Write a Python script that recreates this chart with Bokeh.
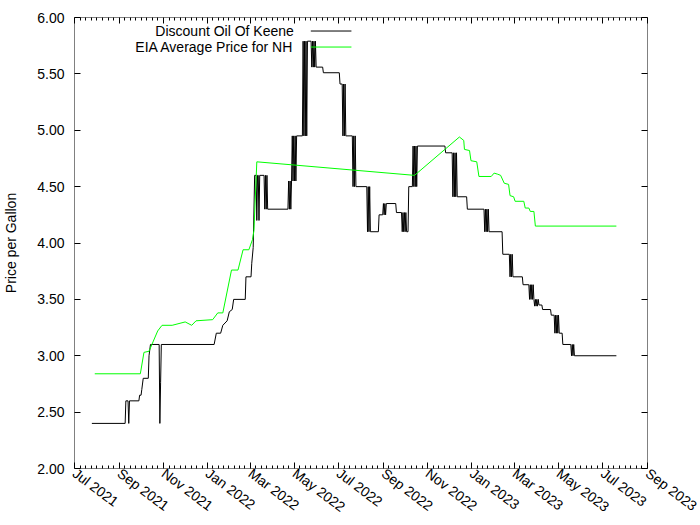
import math
import pandas as pd
from bokeh.plotting import figure
from bokeh.models import (FixedTicker, DatetimeAxis, LinearAxis, Range1d, DatetimeTickFormatter,
                          NumeralTickFormatter, CustomJSTickFormatter, Label, Arrow)
from bokeh.embed import file_html
from bokeh.resources import INLINE

# ---------------- data ----------------
keene_dates = [
    "2021-07-25", "2021-09-09", "2021-09-10", "2021-09-13", "2021-09-14", "2021-09-15",
    "2021-09-28", "2021-09-29", "2021-10-01", "2021-10-02", "2021-10-04", "2021-10-11",
    "2021-10-12", "2021-10-14", "2021-10-26", "2021-10-27", "2021-10-28", "2021-10-29",
    "2022-01-10", "2022-01-13", "2022-01-19", "2022-01-22", "2022-01-28", "2022-01-31",
    "2022-02-04", "2022-02-06", "2022-02-22", "2022-02-23", "2022-03-02", "2022-03-03",
    "2022-03-05", "2022-03-07", "2022-03-09", "2022-03-10", "2022-03-11", "2022-03-12",
    "2022-03-13", "2022-03-14", "2022-03-20", "2022-03-21", "2022-03-22", "2022-03-23",
    "2022-03-24", "2022-03-25", "2022-04-22", "2022-04-23", "2022-04-24", "2022-04-25",
    "2022-04-26", "2022-04-27", "2022-04-28", "2022-04-29", "2022-04-30", "2022-05-01",
    "2022-05-02", "2022-05-03", "2022-05-04", "2022-05-12", "2022-05-13", "2022-05-14",
    "2022-05-15", "2022-05-16", "2022-05-17", "2022-05-18", "2022-05-19", "2022-05-24",
    "2022-05-25", "2022-05-26", "2022-05-27", "2022-05-28", "2022-05-29", "2022-05-30",
    "2022-05-31", "2022-06-09", "2022-06-10", "2022-07-02", "2022-07-03", "2022-07-06",
    "2022-07-07", "2022-07-08", "2022-07-09", "2022-07-10", "2022-07-11", "2022-07-20",
    "2022-07-21", "2022-07-22", "2022-07-23", "2022-07-24", "2022-07-25", "2022-08-09",
    "2022-08-10", "2022-08-11", "2022-08-12", "2022-08-13", "2022-08-14", "2022-08-25",
    "2022-08-26", "2022-08-31", "2022-09-01", "2022-09-02", "2022-09-03", "2022-09-04",
    "2022-09-05", "2022-09-18", "2022-09-19", "2022-09-26", "2022-09-27", "2022-09-28",
    "2022-09-29", "2022-09-30", "2022-10-01", "2022-10-02", "2022-10-03", "2022-10-05",
    "2022-10-06", "2022-10-11", "2022-10-12", "2022-10-13", "2022-10-14", "2022-10-15",
    "2022-10-16", "2022-10-17", "2022-10-18", "2022-11-25", "2022-11-26", "2022-12-05",
    "2022-12-06", "2022-12-07", "2022-12-08", "2022-12-09", "2022-12-10", "2022-12-11",
    "2022-12-12", "2022-12-25", "2022-12-26", "2023-01-18", "2023-01-19", "2023-01-20",
    "2023-01-21", "2023-01-22", "2023-01-23", "2023-01-24", "2023-01-25", "2023-02-12",
    "2023-02-13", "2023-02-22", "2023-02-23", "2023-02-24", "2023-02-25", "2023-02-26",
    "2023-02-27", "2023-03-12", "2023-03-13", "2023-03-21", "2023-03-22", "2023-03-23",
    "2023-03-24", "2023-03-25", "2023-03-26", "2023-03-27", "2023-03-28", "2023-03-29",
    "2023-03-30", "2023-03-31", "2023-04-01", "2023-04-02", "2023-04-03", "2023-04-04",
    "2023-04-08", "2023-04-09", "2023-04-20", "2023-04-21", "2023-04-25", "2023-04-26",
    "2023-04-27", "2023-04-28", "2023-04-29", "2023-04-30", "2023-05-01", "2023-05-02",
    "2023-05-06", "2023-05-07", "2023-05-18", "2023-05-19", "2023-05-20", "2023-05-21",
    "2023-05-22", "2023-05-23", "2023-07-20",
]
keene_prices = [
    2.40, 2.40, 2.60, 2.60, 2.40, 2.60,
    2.60, 2.65, 2.65, 2.70, 2.80, 2.80,
    3.00, 3.10, 3.10, 2.40, 2.76, 3.10,
    3.10, 3.20, 3.20, 3.27, 3.31, 3.39,
    3.41, 3.50, 3.50, 3.70, 3.70, 3.82,
    3.96, 4.60, 4.60, 4.20, 4.60, 4.60,
    4.20, 4.60, 4.60, 4.30, 4.60, 4.30,
    4.60, 4.30, 4.30, 4.55, 4.30, 4.55,
    4.30, 4.55, 4.95, 4.55, 4.95, 4.55,
    4.95, 4.55, 4.95, 4.95, 5.79, 4.95,
    5.79, 4.95, 5.79, 4.95, 5.79, 5.79,
    5.56, 5.79, 5.56, 5.79, 5.56, 5.79,
    5.56, 5.56, 5.51, 5.51, 5.41, 5.41,
    4.95, 5.41, 4.95, 5.41, 4.95, 4.95,
    4.50, 4.95, 4.50, 4.95, 4.50, 4.50,
    4.10, 4.50, 4.10, 4.50, 4.10, 4.10,
    4.25, 4.25, 4.35, 4.25, 4.35, 4.25,
    4.35, 4.35, 4.27, 4.27, 4.10, 4.27,
    4.10, 4.27, 4.10, 4.27, 4.10, 4.10,
    4.50, 4.50, 4.86, 4.50, 4.86, 4.50,
    4.86, 4.50, 4.86, 4.86, 4.80, 4.80,
    4.41, 4.80, 4.41, 4.80, 4.41, 4.80,
    4.41, 4.41, 4.30, 4.30, 4.10, 4.30,
    4.10, 4.30, 4.10, 4.30, 4.10, 4.10,
    3.90, 3.90, 3.70, 3.90, 3.70, 3.90,
    3.70, 3.70, 3.63, 3.63, 3.50, 3.63,
    3.50, 3.63, 3.50, 3.63, 3.50, 3.44,
    3.50, 3.44, 3.50, 3.44, 3.50, 3.45,
    3.45, 3.41, 3.41, 3.36, 3.36, 3.20,
    3.36, 3.20, 3.36, 3.20, 3.36, 3.20,
    3.20, 3.10, 3.10, 3.00, 3.10, 3.00,
    3.10, 3.00, 3.00,
]

eia_dates = [
    "2021-07-29", "2021-09-30", "2021-10-05", "2021-10-12", "2021-10-18", "2021-10-24",
    "2021-10-30", "2021-11-13", "2021-12-01", "2021-12-10", "2021-12-16", "2022-01-08",
    "2022-01-15", "2022-01-22", "2022-02-03", "2022-02-12", "2022-02-19", "2022-02-27",
    "2022-03-04", "2022-03-06", "2022-03-10", "2022-10-14", "2022-12-15", "2022-12-21",
    "2022-12-22", "2022-12-29", "2022-12-31", "2023-01-08", "2023-01-11", "2023-01-28",
    "2023-02-01", "2023-02-06", "2023-02-10", "2023-02-15", "2023-02-21", "2023-02-23",
    "2023-02-28", "2023-03-02", "2023-03-14", "2023-03-16", "2023-03-21", "2023-03-23",
    "2023-03-28", "2023-03-30", "2023-07-20",
]
eia_prices = [
    2.84, 2.84, 3.03, 3.04, 3.13, 3.22,
    3.27, 3.27, 3.30, 3.27, 3.31, 3.32,
    3.38, 3.38, 3.76, 3.76, 3.94, 3.94,
    4.03, 4.11, 4.72, 4.60, 4.94, 4.91,
    4.83, 4.82, 4.73, 4.72, 4.59, 4.59,
    4.62, 4.61, 4.60, 4.53, 4.52, 4.42,
    4.41, 4.37, 4.37, 4.31, 4.31, 4.28,
    4.28, 4.15, 4.15,
]

x_tick_months = [
    "2021-07-01", "2021-09-01", "2021-11-01", "2022-01-01", "2022-03-01", "2022-05-01",
    "2022-07-01", "2022-09-01", "2022-11-01", "2023-01-01", "2023-03-01", "2023-05-01",
    "2023-07-01", "2023-09-01",
]
y_ticks = [2.0, 2.5, 3.0, 3.5, 4.0, 4.5, 5.0, 5.5, 6.0]

series_names = ["Discount Oil Of Keene", "EIA Average Price for NH"]
y_label = "Price per Gallon"

# ---------------- plot ----------------
FONT = "Liberation Sans"
FS = "14px"

def ms(s):
    return pd.Timestamp(s).value // 10**6

major_ms = [ms(d) for d in x_tick_months]
minor_ms = []
for a, b in zip(major_ms[:-1], major_ms[1:]):
    for k in range(1, 8):
        minor_ms.append(a + (b - a) * k / 8)

x0, x1 = major_ms[0], major_ms[-1]
y0, y1 = y_ticks[0], y_ticks[-1]

p = figure(width=700, height=525, x_axis_type="datetime",
           x_range=Range1d(x0, x1), y_range=Range1d(y0, y1),
           output_backend="svg", toolbar_location=None,
           min_border_left=73, min_border_right=53, min_border_top=17, min_border_bottom=57)
p.grid.visible = False
p.outline_line_color = "#808080"
p.outline_line_width = 1
p.background_fill_color = "white"
p.border_fill_color = "white"

fmt_str = "%b %Y"
dt_fmt = DatetimeTickFormatter(microseconds=fmt_str, milliseconds=fmt_str, seconds=fmt_str,
                               minsec=fmt_str, minutes=fmt_str, hourmin=fmt_str, hours=fmt_str,
                               days=fmt_str, months=fmt_str, years=fmt_str)

xt = FixedTicker(ticks=major_ms, minor_ticks=minor_ms)
yt = FixedTicker(ticks=y_ticks, minor_ticks=[])

xa = p.xaxis[0]
xa.ticker = xt
xa.formatter = dt_fmt
xa.major_label_orientation = -math.radians(37)
xa.major_label_standoff = 3
ya = p.yaxis[0]
ya.ticker = yt
ya.formatter = NumeralTickFormatter(format="0.00")
ya.major_label_standoff = 10
ya.axis_label = y_label
ya.axis_label_standoff = 15
ya.axis_label_text_font_style = "normal"
ya.axis_label_text_font = FONT
ya.axis_label_text_font_size = FS
ya.axis_label_text_color = "black"

top = DatetimeAxis(ticker=xt, formatter=CustomJSTickFormatter(code="return ''"),
                   major_label_text_font_size="0px", major_label_standoff=0)
right = LinearAxis(ticker=yt, formatter=CustomJSTickFormatter(code="return ''"),
                   major_label_text_font_size="0px", major_label_standoff=0)
p.add_layout(top, "above")
p.add_layout(right, "right")

for ax in [xa, ya, top, right]:
    ax.axis_line_color = None
    ax.major_tick_in = 6
    ax.major_tick_out = 0
    ax.minor_tick_in = 3
    ax.minor_tick_out = 0
    ax.major_tick_line_color = "black"
    ax.minor_tick_line_color = "black"
for ax in [xa, ya]:
    ax.major_label_text_font = FONT
    ax.major_label_text_font_size = FS
    ax.major_label_text_color = "black"

kd = pd.to_datetime(keene_dates)
ed = pd.to_datetime(eia_dates)
p.line(kd, keene_prices, line_color="black", line_width=1)
p.line(ed, eia_prices, line_color="#00ff00", line_width=1)

# legend (gnuplot style: text right-aligned, sample to the right)
xs = x1 - x0
ys = y1 - y0
text_x = x0 + 0.3828 * xs
samp_a = x0 + 0.4124 * xs
samp_b = x0 + 0.4833 * xs
row_y = [y0 + 0.970 * ys, y0 + 0.9345 * ys]
colors = ["black", "#00ff00"]
for name, yy, c in zip(series_names, row_y, colors):
    p.add_layout(Label(x=text_x, y=yy, text=name, text_align="right", text_baseline="middle",
                       text_font=FONT, text_font_size=FS, text_color="black"))
    p.add_layout(Arrow(x_start=samp_a, y_start=yy, x_end=samp_b, y_end=yy,
                       start=None, end=None, line_color=c, line_width=1))

open("out.html", "w").write(file_html(p, INLINE))
